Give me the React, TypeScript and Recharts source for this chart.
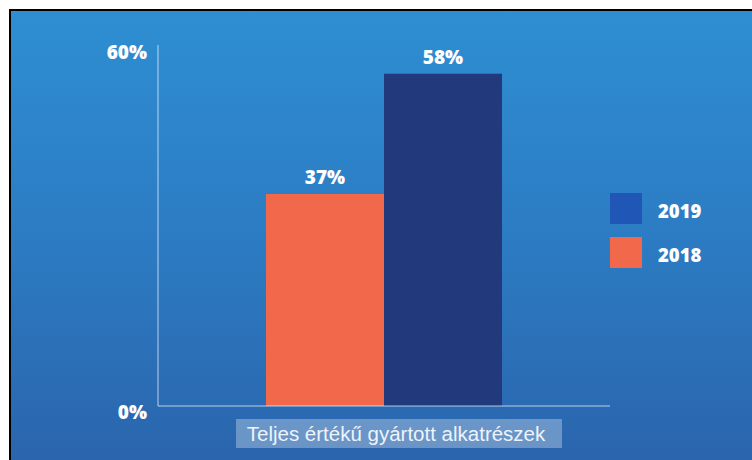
import React from 'react';
import { BarChart, Bar, XAxis, YAxis, Legend, LabelList } from 'recharts';

const categories = ['Teljes értékű gyártott alkatrészek'];
const seriesNames = ['2018', '2019'];
const values2018 = [37];
const values2019 = [58];
const barColors = ['#f2684a', '#22397b'];
const legendColors = ['#f2684a', '#2056b6'];
const yTicks = [0, 60];

const data = categories.map((name, i) => ({
  name,
  '2018': values2018[i],
  '2019': values2019[i],
}));

const boldFont = '"Open Sans", sans-serif';

const YTick = (props: any) => {
  const { x, y, payload } = props;
  const dy = payload.value === 0 ? 6 : -10;
  return (
    <text
      x={x}
      y={y + dy}
      textAnchor="end"
      dominantBaseline="central"
      fill="#ffffff"
      fontFamily={boldFont}
      fontWeight={800}
      fontSize={19}
    >
      {payload.value}%
    </text>
  );
};

const XTick = (props: any) => {
  const { x, y, payload } = props;
  return (
    <g>
      <rect x={x - 148} y={y + 13} width={326} height={29} fill="rgba(255,255,255,0.3)" />
      <text
        x={x + 12}
        y={y + 35}
        textAnchor="middle"
        fill="#eef3fa"
        fontFamily='"Liberation Sans", Arial, sans-serif'
        fontSize={20.5}
      >
        {payload.value}
      </text>
    </g>
  );
};

const LegendContent = () => {
  const order = [1, 0];
  return (
    <div>
      {order.map((i) => (
        <div key={seriesNames[i]} style={{ display: 'flex', alignItems: 'center', height: 44 }}>
          <div style={{ width: 32, height: 31, background: legendColors[i] }} />
          <span
            style={{
              marginLeft: 16,
              color: '#ffffff',
              fontFamily: boldFont,
              fontWeight: 800,
              fontSize: 18.5,
              marginTop: 5,
            }}
          >
            {seriesNames[i]}
          </span>
        </div>
      ))}
    </div>
  );
};

export default function App() {
  return (
    <div style={{ position: 'absolute', left: 0, top: 0, width: 752, height: 460, background: '#ffffff' }}>
      <div
        style={{
          position: 'absolute',
          left: 9,
          top: 9,
          right: 0,
          bottom: 0,
          borderLeft: '2px solid #000',
          borderTop: '2px solid #000',
          background: 'linear-gradient(to bottom, #2e8ed2 0%, #2c7cc3 50%, #2a65ad 100%)',
        }}
      />
      <div style={{ position: 'absolute', left: 0, top: 0 }}>
        <BarChart
          width={752}
          height={460}
          data={data}
          margin={{ top: 45, right: 142, bottom: 0, left: 0 }}
          barGap={0}
          barSize={118}
        >
          <XAxis
            dataKey="name"
            height={54}
            tickLine={false}
            tickSize={0}
            tickMargin={0}
            axisLine={{ stroke: 'rgba(255,255,255,0.45)', strokeWidth: 1.5 }}
            tick={<XTick />}
          />
          <YAxis
            width={158}
            domain={[0, 63]}
            ticks={yTicks}
            tickLine={false}
            tickSize={0}
            tickMargin={11}
            axisLine={{ stroke: 'rgba(255,255,255,0.45)', strokeWidth: 1.5 }}
            tick={<YTick />}
          />
          <Legend
            layout="vertical"
            align="center"
            verticalAlign="middle"
            wrapperStyle={{ left: 610, top: 186 }}
            content={<LegendContent />}
          />
          {seriesNames.map((s, i) => (
            <Bar key={s} dataKey={s} name={s} fill={barColors[i]} isAnimationActive={false}>
              <LabelList
                dataKey={s}
                position="top"
                offset={10}
                formatter={(v: any) => `${v}%`}
                fill="#ffffff"
                fontFamily={boldFont}
                fontWeight={800}
                fontSize={19}
              />
            </Bar>
          ))}
        </BarChart>
      </div>
    </div>
  );
}
